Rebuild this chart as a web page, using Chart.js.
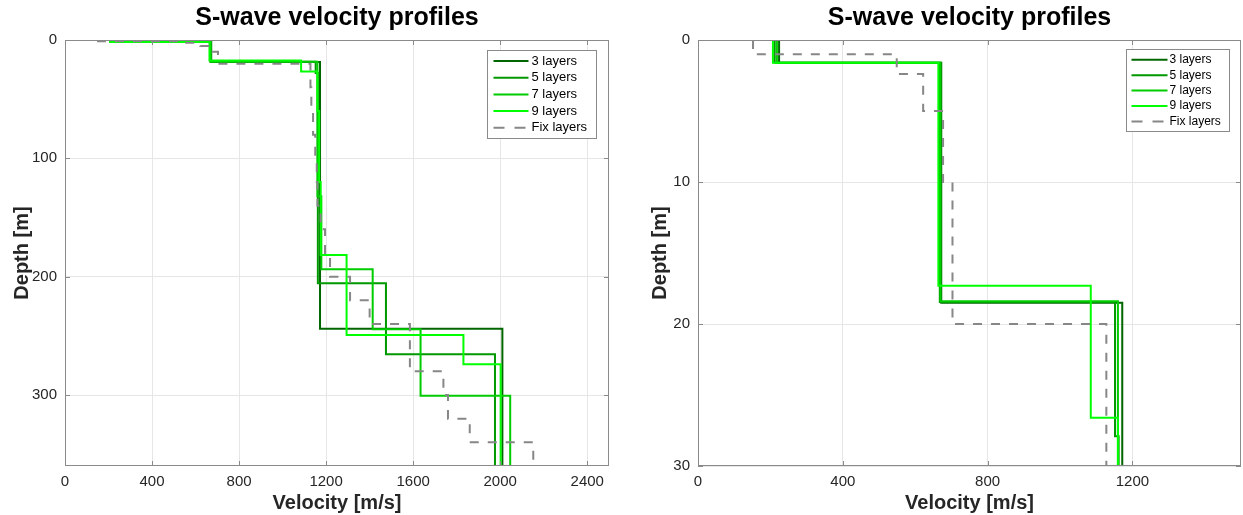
<!DOCTYPE html>
<html>
<head>
<meta charset="utf-8">
<script src="https://cdn.jsdelivr.net/npm/chart.js@4.4.1/dist/chart.umd.min.js"></script>
<style>
  html, body { margin: 0; padding: 0; background: #fff; }
  #wrap { position: relative; width: 1243px; height: 515px; }
  canvas { position: absolute; top: 0; }
</style>
</head>
<body>
<div id="wrap">
  <canvas id="deep" width="633" height="515" style="left:0"></canvas>
  <canvas id="shallow" width="610" height="515" style="left:633px"></canvas>
</div>
<script>
// layer velocities [m/s] and the depth of each layer base [m]; last velocity is the half-space
const vel3 = [224, 672, 1172, 2010];
const base3 = [1.6, 18.5, 244];
const vel5 = [212, 668, 1152, 1162, 1475, 1976];
const base5 = [1.6, 18.45, 27.9, 205.6, 265.6];
const vel7 = [218, 670, 1160, 1178, 1414, 1634, 2046];
const base7 = [1.6, 18.4, 132, 193.8, 244.5, 300.6];
const vel9 = [207, 664, 1085, 1160, 1168, 1175, 1294, 1831, 2002];
const base9 = [1.6, 17.3, 26.6, 60, 120, 181.7, 249.3, 274];
const velFix = [152, 549, 622, 677, 703, 1128, 1132, 1140, 1150, 1157, 1160, 1175, 1195, 1218, 1310, 1400, 1585, 1585, 1739, 1760, 1860, 2152];
const baseFix = [1, 2.4, 5, 10, 20, 40, 60, 80, 100, 120, 140, 160, 180, 200, 220, 240, 260, 280, 300, 320, 340];

const seriesNames = ["3 layers", "5 layers", "7 layers", "9 layers", "Fix layers"];
const deepXTicks = [0, 400, 800, 1200, 1600, 2000, 2400];
const deepYTicks = [0, 100, 200, 300];
const shallowXTicks = [0, 400, 800, 1200];
const shallowYTicks = [0, 10, 20, 30];

const FONT = "'Liberation Sans', Arial, Helvetica, sans-serif";

function profile(vel, base, bottom) {
  const pts = [];
  vel.forEach((v, i) => {
    const top = i === 0 ? 0 : base[i - 1];
    const bot = i < base.length ? base[i] : bottom;
    pts.push({ x: v, y: top }, { x: v, y: bot });
  });
  return pts;
}

function datasets(bottom) {
  const models = [[vel3, base3], [vel5, base5], [vel7, base7], [vel9, base9], [velFix, baseFix]];
  const colors = ["#006600", "#009900", "#00cc00", "#00ff00", "#878787"];
  return models.map((m, i) => ({
    label: seriesNames[i],
    data: profile(m[0], m[1], bottom),
    borderColor: colors[i],
    backgroundColor: colors[i],
    borderWidth: 2,
    borderDash: i === 4 ? [9, 9] : [],
    showLine: true,
    pointRadius: 0,
    fill: false,
    order: 5 - i
  }));
}

// axes box with inward ticks, like the original figure
const boxPlugin = {
  id: 'box',
  afterDatasetsDraw(chart) {
    const { ctx, chartArea: a, scales } = chart;
    ctx.save();
    ctx.strokeStyle = '#8a8a8a';
    ctx.lineWidth = 1;
    ctx.strokeRect(Math.round(a.left) + 0.5, Math.round(a.top) + 0.5,
      Math.round(a.right - a.left) - 1, Math.round(a.bottom - a.top) - 1);
    ctx.beginPath();
    scales.x.ticks.forEach(t => {
      const px = Math.round(scales.x.getPixelForValue(t.value)) + 0.5;
      ctx.moveTo(px, a.bottom); ctx.lineTo(px, a.bottom - 5);
      ctx.moveTo(px, a.top); ctx.lineTo(px, a.top + 5);
    });
    scales.y.ticks.forEach(t => {
      const py = Math.round(scales.y.getPixelForValue(t.value)) + 0.5;
      ctx.moveTo(a.left, py); ctx.lineTo(a.left + 5, py);
      ctx.moveTo(a.right, py); ctx.lineTo(a.right - 5, py);
    });
    ctx.stroke();
    ctx.restore();
  }
};

const legendPlugin = {
  id: 'boxLegend',
  afterDraw(chart, args, o) {
    const { ctx, chartArea: a } = chart;
    const x0 = Math.round(a.right - o.inset - o.width) + 0.5;
    const y0 = Math.round(a.top + o.top) + 0.5;
    ctx.save();
    ctx.fillStyle = '#fff';
    ctx.fillRect(x0, y0, o.width, o.height);
    ctx.strokeStyle = '#8a8a8a';
    ctx.lineWidth = 1;
    ctx.strokeRect(x0, y0, o.width, o.height);
    ctx.font = o.fontSize + 'px ' + FONT;
    ctx.textBaseline = 'middle';
    ctx.fillStyle = '#000';
    chart.data.datasets.forEach((ds, i) => {
      const y = y0 + o.first + i * o.row;
      ctx.beginPath();
      ctx.setLineDash(ds.borderDash.length ? o.dash : []);
      ctx.strokeStyle = ds.borderColor;
      ctx.lineWidth = 2;
      ctx.moveTo(x0 + o.sampleX, y);
      ctx.lineTo(x0 + o.sampleX + o.sampleLen, y);
      ctx.stroke();
      ctx.setLineDash([]);
      ctx.fillText(ds.label, x0 + o.textX, y);
    });
    ctx.restore();
  }
};

function makeChart(id, cfg) {
  const fixedTicks = vals => scale => { scale.ticks = vals.map(v => ({ value: v })); };
  const plain = v => String(v);
  return new Chart(document.getElementById(id), {
    type: 'scatter',
    data: { datasets: datasets(360) },
    plugins: [boxPlugin, legendPlugin],
    options: {
      responsive: false,
      devicePixelRatio: 1,
      animation: false,
      layout: { padding: { left: 0, right: cfg.padRight, top: 0, bottom: 0 } },
      scales: {
        x: {
          type: 'linear',
          min: 0,
          max: cfg.xMax,
          afterBuildTicks: fixedTicks(cfg.xTicks),
          afterFit: s => { s.height = 49; },
          grid: { color: '#e6e6e6', drawTicks: false },
          border: { display: false },
          ticks: { color: '#262626', padding: 7, font: { family: FONT, size: 15 }, callback: plain },
          title: {
            display: true, text: 'Velocity [m/s]', color: '#262626',
            font: { family: FONT, size: 20, weight: 'bold' }, padding: { top: 0, bottom: 0 }
          }
        },
        y: {
          type: 'linear',
          reverse: true,
          min: 0,
          max: cfg.yMax,
          afterBuildTicks: fixedTicks(cfg.yTicks),
          afterFit: s => { s.width = 65; },
          grid: { color: '#e6e6e6', drawTicks: false },
          border: { display: false },
          ticks: { color: '#262626', padding: 8, font: { family: FONT, size: 15 }, callback: plain },
          title: {
            display: true, text: 'Depth [m]', color: '#262626',
            font: { family: FONT, size: 20, weight: 'bold' }, padding: { top: cfg.yTitlePad, bottom: 0 }
          }
        }
      },
      plugins: {
        legend: { display: false },
        tooltip: { enabled: false },
        title: {
          display: true,
          fullSize: false,
          text: 'S-wave velocity profiles',
          color: '#000',
          font: { family: FONT, size: 25, weight: 'bold' },
          padding: { top: 3, bottom: 7 }
        },
        boxLegend: cfg.legend
      }
    }
  });
}

makeChart('deep', {
  xMax: 2500, yMax: 360, xTicks: deepXTicks, yTicks: deepYTicks,
  padRight: 24, yTitlePad: 10,
  legend: { inset: 13, top: 10, width: 109, height: 88, first: 10.5, row: 16.7,
            fontSize: 13, sampleX: 6, sampleLen: 35, textX: 44, dash: [11, 10] }
});

makeChart('shallow', {
  xMax: 1500, yMax: 30, xTicks: shallowXTicks, yTicks: shallowYTicks,
  padRight: 2, yTitlePad: 15,
  legend: { inset: 12, top: 9, width: 103, height: 82, first: 10.3, row: 15.4,
            fontSize: 12, sampleX: 5, sampleLen: 36, textX: 43, dash: [11, 10] }
});
</script>
</body>
</html>
